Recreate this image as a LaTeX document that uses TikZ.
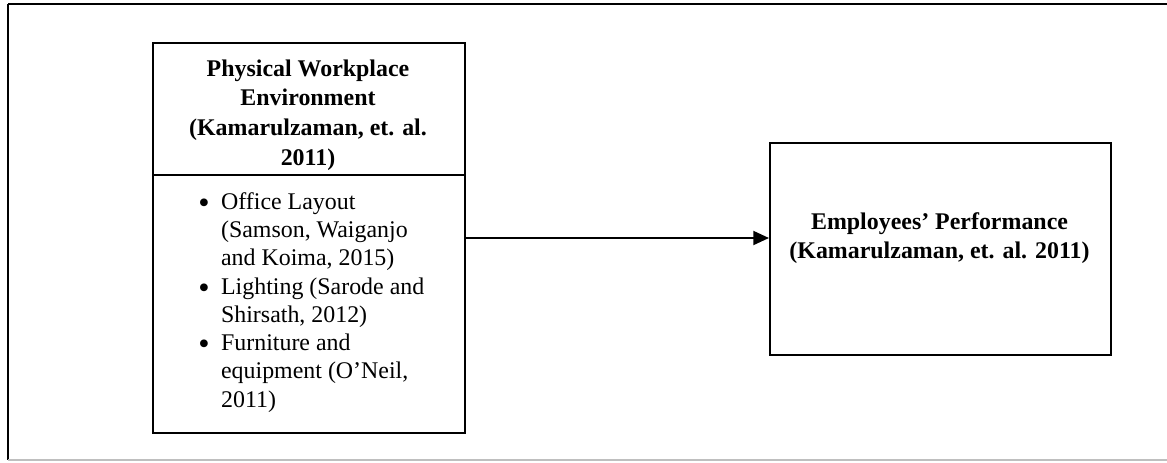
\documentclass[tikz,border=0pt]{standalone}
\usepackage{fontspec}
\setmainfont{Liberation Serif}
\usetikzlibrary{arrows.meta}

\tikzset{
  box/.style={draw, line width=1.1pt, rectangle, inner sep=0pt, anchor=north west},
  boxtext/.style={align=center, inner sep=0pt, font=\fontsize{12}{14.9}\selectfont\bfseries},
  listtext/.style={align=left, inner sep=0pt, anchor=north west, font=\fontsize{12}{14.2}\selectfont},
  link/.style={line width=1.1pt, -{Triangle[length=7.9pt,width=7pt]}}
}
\newcommand{\bulletmark}{\makebox[11.4pt][l]{\raisebox{-0.17em}{\scalebox{1.35}{\textbullet}}}}
\newcommand{\contline}{\hspace*{11.4pt}}

\begin{document}
\begin{tikzpicture}[x=0.502pt, y=-0.502pt]
    \useasboundingbox (0,0) rectangle (1167,462);

    % Outer frame (cut off on the right)
    \draw[line width=1.3pt] (8,4) -- (1167,4); % Top edge
    \draw[line width=1.1pt] (8,4) -- (8,460); % Left edge
    \draw[line width=1pt, black!25] (8,460) -- (1167,460); % Bottom edge

    % Left box: heading cell and list cell
    \node[box, minimum width=156.6pt, minimum height=66.3pt] (head) at (152,42) {};
    \node[box, minimum width=156.6pt, minimum height=129.5pt] (body) at (152,174) {};
    \node[boxtext] (headtext) at (308,115) {Physical Workplace\\Environment\\(Kamarulzaman, et. al.\\2011)};
    \node[listtext] (items) at (198,192) {%
        \bulletmark Office Layout\\
        \contline (Samson, Waiganjo\\
        \contline and Koima, 2015)\\
        \bulletmark Lighting (Sarode and\\
        \contline Shirsath, 2012)\\
        \bulletmark Furniture and\\
        \contline equipment (O'Neil,\\
        \contline 2011)};

    % Right box: outcome
    \node[box, minimum width=171.2pt, minimum height=106.4pt] (perf) at (769,142) {};
    \node[boxtext] (perftext) at (939.5,238) {Employees' Performance\\(Kamarulzaman, et. al. 2011)};

    % Connector
    \draw[link] (body.east |- perftext) -- (perf.west |- perftext);
\end{tikzpicture}
\end{document}
